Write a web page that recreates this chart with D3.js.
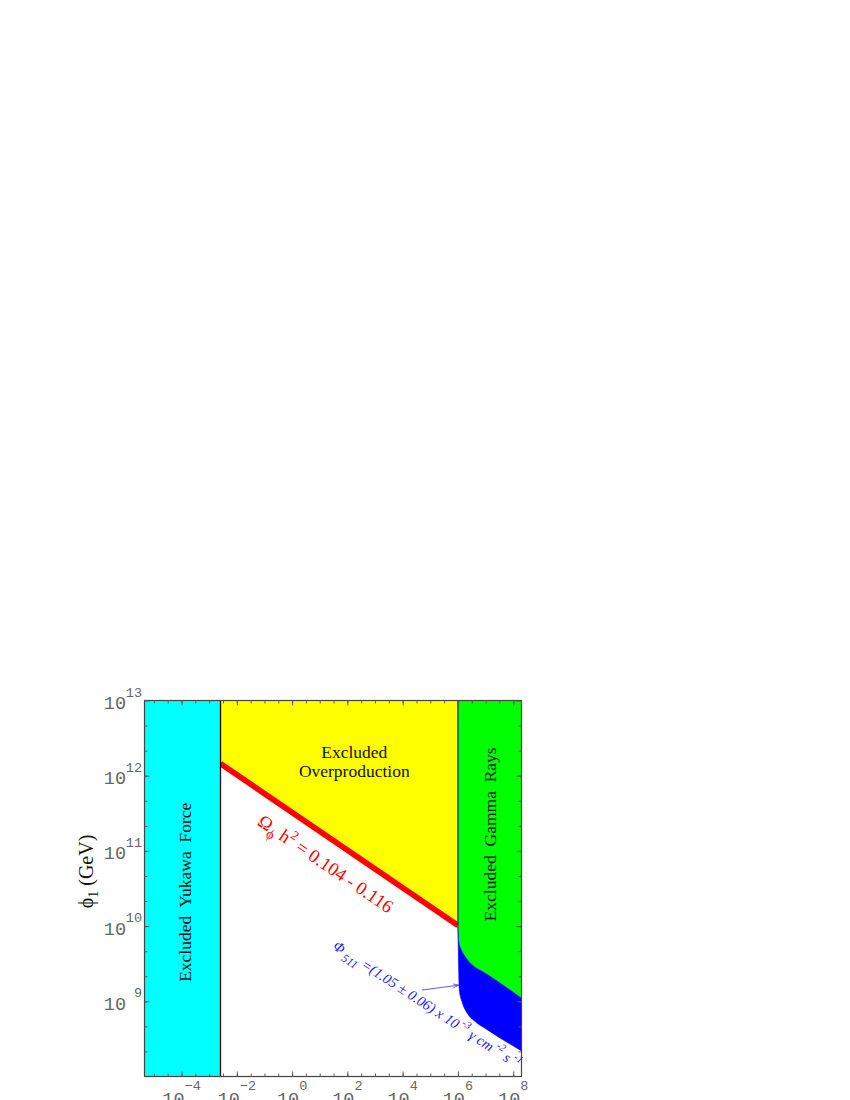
<!DOCTYPE html>
<html>
<head>
<meta charset="utf-8">
<script src="https://cdn.jsdelivr.net/npm/d3@7/dist/d3.min.js"></script>
<style>
body{margin:0;background:#fff}
svg{display:block}
</style>
</head>
<body>
<div id="chart"></div>
<script>
// all values are log10
const massRange = [-5.34, 8.30];
const phiRange = [8, 13];
const xLabelExps = [-4, -2, 0, 2, 4, 6, 8];
const yLabelExps = [9, 10, 11, 12, 13];
const yukawaEdge = -2.59;
const gammaEdge = 6;
const relicLine = [[-2.59, 12.16], [6, 10.01]];
const bandUpper = [[6.0, 9.97], [6.02, 9.81], [6.13, 9.68], [6.27, 9.59], [6.56, 9.47], [6.92, 9.39], [8.30, 9.04]];
const bandLower = [[6.0, 9.97], [6.02, 9.55], [6.05, 9.15], [6.16, 8.98], [6.34, 8.84], [6.56, 8.75], [7.07, 8.62], [8.30, 8.34]];
const arrowPts = [[4.70, 9.15], [6.03, 9.215]];

const p10 = v => Math.pow(10, v);

const W = 850, H = 1100;
const pL = 144.5, pR = 521.5, pT = 700.5, pB = 1076.5;

const svg = d3.select('#chart').append('svg')
    .attr('width', W)
    .attr('height', H);

const x = d3.scaleLog().domain(massRange.map(p10)).range([pL, pR]);
const y = d3.scaleLog().domain(phiRange.map(p10)).range([pB, pT]);
const px = d => x(p10(d[0]));
const py = d => y(p10(d[1]));

const defs = svg.append('defs');
defs.append('clipPath').attr('id', 'plot')
  .append('rect').attr('x', pL).attr('y', pT).attr('width', pR - pL).attr('height', pB - pT);
defs.append('clipPath').attr('id', 'relic')
  .append('rect').attr('x', x(p10(yukawaEdge))).attr('y', pT)
    .attr('width', x(p10(gammaEdge)) - x(p10(yukawaEdge))).attr('height', pB - pT);

const plot = svg.append('g').attr('clip-path', 'url(#plot)');

const lineGen = d3.line().x(px).y(py).curve(d3.curveMonotoneX);
const rev = pts => lineGen(pts.slice().reverse()).replace(/^M/, 'L');

// yukawa region
plot.append('rect')
    .attr('x', pL).attr('y', pT)
    .attr('width', x(p10(yukawaEdge)) - pL)
    .attr('height', pB - pT)
    .style('fill', '#00ffff');

// overproduction region
const yel = [[yukawaEdge, phiRange[1]], [gammaEdge, phiRange[1]], relicLine[1], relicLine[0]];
plot.append('path')
    .attr('d', 'M' + yel.map(d => px(d) + ',' + py(d)).join('L') + 'Z')
    .style('fill', '#ffff00');

// gamma ray region
plot.append('path')
    .attr('d', 'M' + px([gammaEdge, phiRange[1]]) + ',' + py([gammaEdge, phiRange[1]]) +
        'L' + px([massRange[1], phiRange[1]]) + ',' + py([massRange[1], phiRange[1]]) +
        rev(bandUpper) + 'Z')
    .style('fill', '#00ff00');

// 511 keV band
plot.append('path')
    .attr('d', lineGen(bandUpper) + rev(bandLower) + 'Z')
    .style('fill', '#0000ff')
    .style('stroke', '#0000ff')
    .style('stroke-width', 0.6);

// relic density line
plot.append('line')
    .attr('clip-path', 'url(#relic)')
    .attr('x1', px(relicLine[0])).attr('y1', py(relicLine[0]))
    .attr('x2', px(relicLine[1])).attr('y2', py(relicLine[1]))
    .style('stroke', '#ff0000')
    .style('stroke-width', 5.8);

// boundary lines
plot.append('line')
    .attr('x1', x(p10(yukawaEdge))).attr('x2', x(p10(yukawaEdge)))
    .attr('y1', pT).attr('y2', pB)
    .style('stroke', '#000').style('stroke-width', 1.3);
plot.append('line')
    .attr('x1', x(p10(gammaEdge))).attr('x2', x(p10(gammaEdge)))
    .attr('y1', pT).attr('y2', py(bandUpper[0]))
    .style('stroke', '#1a1a99').style('stroke-width', 1.2);

// arrow
defs.append('marker')
    .attr('id', 'head').attr('viewBox', '0 0 10 10')
    .attr('refX', 10).attr('refY', 5)
    .attr('markerWidth', 7).attr('markerHeight', 7)
    .attr('orient', 'auto')
  .append('path').attr('d', 'M0,1.5L10,5L0,8.5').style('fill', 'none').style('stroke', '#3333ff').style('stroke-width', 1.2);
svg.append('line')
    .attr('x1', px(arrowPts[0])).attr('y1', py(arrowPts[0]))
    .attr('x2', px(arrowPts[1])).attr('y2', py(arrowPts[1]))
    .attr('marker-end', 'url(#head)')
    .style('stroke', '#3333ff').style('stroke-width', 0.8);

// frame
svg.append('rect')
    .attr('x', pL).attr('y', pT)
    .attr('width', pR - pL).attr('height', pB - pT)
    .style('fill', 'none').style('stroke', '#444').style('stroke-width', 1.2);

// ticks, inward on all four sides
const xMinor = d3.range(-10, 17).map(k => k / 2).filter(v => v >= massRange[0] && v <= massRange[1]);
const yMinor = d3.range(24, 40).map(k => k / 3).filter(v => v > phiRange[0] && v < phiRange[1]);
function ticks(axis, vals, size, tr){
    svg.append('g')
        .attr('class', 'tick-g')
        .attr('transform', tr)
        .call(axis.tickValues(vals.map(p10)).tickSizeInner(-size).tickSizeOuter(0).tickFormat(''))
        .call(g => g.select('.domain').remove())
        .selectAll('line').style('stroke', '#555').style('stroke-width', 0.9);
}
ticks(d3.axisBottom(x), xMinor, 3, 'translate(0,' + pB + ')');
ticks(d3.axisTop(x), xMinor, 3, 'translate(0,' + pT + ')');
ticks(d3.axisBottom(x), xLabelExps, 5, 'translate(0,' + pB + ')');
ticks(d3.axisTop(x), xLabelExps, 5, 'translate(0,' + pT + ')');
ticks(d3.axisLeft(y), yMinor, 3, 'translate(' + pL + ',0)');
ticks(d3.axisRight(y), yMinor, 3, 'translate(' + pR + ',0)');
ticks(d3.axisLeft(y), yLabelExps, 5, 'translate(' + pL + ',0)');
ticks(d3.axisRight(y), yLabelExps, 5, 'translate(' + pR + ',0)');

// tick labels
const mono = '"Liberation Mono", "DejaVu Sans Mono", monospace';
const tickCol = '#666';
const xl = svg.selectAll('.xlab').data(xLabelExps).enter().append('text')
    .attr('class', 'xlab')
    .attr('x', d => x(p10(d)))
    .attr('y', pB + 28)
    .attr('text-anchor', 'middle')
    .style('font-family', mono)
    .style('fill', tickCol);
xl.append('tspan').style('font-size', '18.5px').text('10');
xl.append('tspan').attr('dy', -14.5).style('font-size', '13.5px')
    .text(d => (d < 0 ? '\u2212' + (-d) : '' + d));

const yl = svg.selectAll('.ylab').data(yLabelExps).enter().append('g')
    .attr('class', 'ylab')
    .style('font-family', mono)
    .style('fill', tickCol);
yl.append('text')
    .attr('x', 126).attr('y', d => y(p10(d)) + 8.5)
    .attr('text-anchor', 'end')
    .style('font-size', '18.5px')
    .text('10');
yl.append('text')
    .attr('x', 142).attr('y', d => y(p10(d)) - 4)
    .attr('text-anchor', 'end')
    .style('font-size', '13.5px')
    .text(d => d);

// axis title
const serif = '"Liberation Serif", "Times New Roman", serif';
const yt = svg.append('text')
    .attr('transform', 'translate(93,871.5) rotate(-90)')
    .attr('text-anchor', 'middle')
    .style('font-family', serif)
    .style('font-size', '20px')
    .style('fill', '#111');
yt.append('tspan').text('\u03d5');
yt.append('tspan').attr('dy', 5).style('font-size', '14px').text('1');
yt.append('tspan').attr('dy', -5).text(' (GeV)');

// region labels
function vlabel(txt, lx, ly){
    svg.append('text')
        .attr('transform', 'translate(' + x(p10(lx)) + ',' + y(p10(ly)) + ') rotate(-90)')
        .attr('text-anchor', 'middle')
        .style('font-family', serif)
        .style('font-size', '17.5px')
        .style('white-space', 'pre')
        .style('fill', '#111')
        .text(txt);
}
vlabel('Excluded  Yukawa  Force', -3.64, 10.45);
vlabel('Excluded  Gamma  Rays', 7.36, 11.22);

const ov = svg.append('text')
    .attr('text-anchor', 'middle')
    .style('font-family', serif)
    .style('font-size', '17.5px')
    .style('fill', '#111');
ov.append('tspan').attr('x', x(p10(2.25))).attr('y', y(p10(12.23))).text('Excluded');
ov.append('tspan').attr('x', x(p10(2.25))).attr('dy', 19).text('Overproduction');

// relic label along the line
const ang = Math.atan2(py(relicLine[1]) - py(relicLine[0]), px(relicLine[1]) - px(relicLine[0])) * 180 / Math.PI;
const rl = svg.append('text')
    .attr('transform', 'translate(' + x(p10(1.09)) + ',' + y(p10(10.76)) + ') rotate(' + ang + ')')
    .attr('text-anchor', 'middle')
    .style('font-family', serif)
    .style('font-size', '18.5px')
    .style('white-space', 'pre')
    .style('fill', '#ff0000');
rl.append('tspan').text('\u03a9');
rl.append('tspan').attr('dy', 5).style('font-size', '14px').text('\u03d5');
rl.append('tspan').attr('dy', -5).text(' h');
rl.append('tspan').attr('dy', -8).style('font-size', '13px').text('2');
rl.append('tspan').attr('dy', 8).text(' = 0.104 - 0.116');

// 511 keV flux label
const bl = svg.append('text')
    .attr('transform', 'translate(' + x(p10(4.78)) + ',' + y(p10(8.90)) + ') rotate(' + (ang - 1) + ')')
    .attr('text-anchor', 'middle')
    .style('font-family', serif)
    .style('font-size', '14.5px')
    .style('font-style', 'italic')
    .style('white-space', 'pre')
    .style('fill', '#1a1aff');
bl.append('tspan').text('\u03a6');
bl.append('tspan').attr('dy', 5).style('font-size', '11.5px').text(' 511');
bl.append('tspan').attr('dy', -5).text(' =(1.05 \u00b1 0.06) x 10');
bl.append('tspan').attr('dy', -7).style('font-size', '10.5px').text(' -3');
bl.append('tspan').attr('dy', 7).text(' \u03b3 cm');
bl.append('tspan').attr('dy', -7).style('font-size', '10.5px').text(' -2');
bl.append('tspan').attr('dy', 7).text(' s');
bl.append('tspan').attr('dy', -7).style('font-size', '10.5px').text(' -1');
</script>
</body>
</html>
